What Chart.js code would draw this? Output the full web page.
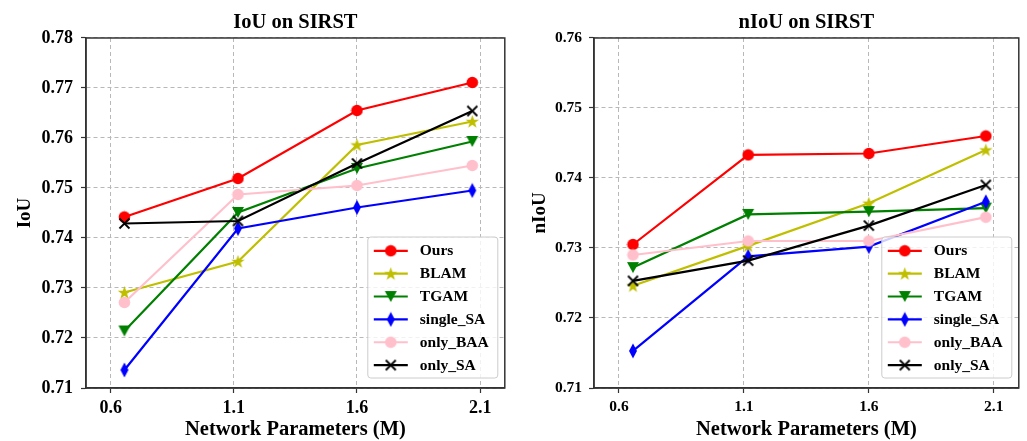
<!DOCTYPE html>
<html><head><meta charset="utf-8">
<script src="https://cdn.jsdelivr.net/npm/chart.js@4"></script>
<style>
html,body{margin:0;padding:0;background:#fff;width:1027px;height:441px;overflow:hidden}
.box{position:absolute;top:0;height:441px}
#b1{left:0;width:513px}
#b2{left:513px;width:514px}
</style></head><body>
<div class="box" id="b1"><canvas id="c1"></canvas></div>
<div class="box" id="b2"><canvas id="c2"></canvas></div>
<script>
// ---- data ----
const xParams = [0.656, 1.117, 1.6, 2.068];
const xTickValues = [0.6, 1.1, 1.6, 2.1];
const seriesNames = ['Ours', 'BLAM', 'TGAM', 'single_SA', 'only_BAA', 'only_SA'];

const iouOurs     = [0.7442, 0.7519, 0.7655, 0.7711];
const iouBLAM     = [0.7291, 0.7353, 0.7586, 0.7633];
const iouTGAM     = [0.7214, 0.7451, 0.7539, 0.7593];
const iouSingleSA = [0.7136, 0.7419, 0.7461, 0.7495];
const iouOnlyBAA  = [0.7271, 0.7487, 0.7505, 0.7545];
const iouOnlySA   = [0.7429, 0.7434, 0.7549, 0.7654];
const iouTickValues = [0.71, 0.72, 0.73, 0.74, 0.75, 0.76, 0.77, 0.78];

const niouOurs     = [0.7305, 0.7433, 0.7435, 0.7460];
const niouBLAM     = [0.7246, 0.7303, 0.7364, 0.7440];
const niouTGAM     = [0.7272, 0.7348, 0.7352, 0.7357];
const niouSingleSA = [0.7153, 0.7288, 0.7302, 0.7366];
const niouOnlyBAA  = [0.7290, 0.7310, 0.7310, 0.7344];
const niouOnlySA   = [0.7253, 0.7282, 0.7332, 0.7390];
const niouTickValues = [0.71, 0.72, 0.73, 0.74, 0.75, 0.76];

// ---- styles ----
const seriesColors = ['#ff0000', '#bfbf00', '#008000', '#0000ff', '#ffc0cb', '#000000'];
const markerKinds = ['circle', 'star', 'tridown', 'thindiamond', 'circle', 'x'];
const FONT = '"Liberation Serif", "Times New Roman", serif';

function makeMarker(kind, color) {
  const c = document.createElement('canvas');
  let w = 13, h = 13;
  if (kind === 'star') { w = 15; h = 15; }
  if (kind === 'tridown') { w = 14; h = 13; }
  if (kind === 'thindiamond') { w = 10; h = 16; }
  if (kind === 'x') { w = 13; h = 13; }
  c.width = w; c.height = h;
  const g = c.getContext('2d');
  g.fillStyle = color; g.strokeStyle = color;
  const cx = w / 2, cy = h / 2;
  g.beginPath();
  if (kind === 'circle') {
    g.arc(cx, cy, 5.8, 0, Math.PI * 2);
    g.fill();
  } else if (kind === 'star') {
    const R = 7, r = 2.8;
    for (let k = 0; k < 10; k++) {
      const ang = -Math.PI / 2 + k * Math.PI / 5;
      const rad = k % 2 === 0 ? R : r;
      const px = cx + rad * Math.cos(ang), py = cy + 0.5 + rad * Math.sin(ang);
      if (k === 0) g.moveTo(px, py); else g.lineTo(px, py);
    }
    g.closePath(); g.fill();
  } else if (kind === 'tridown') {
    g.moveTo(1, 1); g.lineTo(w - 1, 1); g.lineTo(cx, h - 1); g.closePath(); g.fill();
  } else if (kind === 'thindiamond') {
    g.moveTo(cx, 0.5); g.lineTo(w - 1, cy); g.lineTo(cx, h - 0.5); g.lineTo(1, cy); g.closePath(); g.fill();
  } else if (kind === 'x') {
    g.lineWidth = 1.8;
    g.moveTo(1.5, 1.5); g.lineTo(w - 1.5, h - 1.5);
    g.moveTo(w - 1.5, 1.5); g.lineTo(1.5, h - 1.5);
    g.stroke();
  }
  return c;
}

const framePlugin = {
  id: 'frame',
  afterDraw(chart) {
    const {ctx, chartArea: a} = chart;
    ctx.save();
    ctx.strokeStyle = '#333';
    ctx.lineWidth = 1.5;
    ctx.strokeRect(a.left, a.top, a.right - a.left, a.bottom - a.top);
    ctx.restore();
  }
};

const legendPlugin = {
  id: 'mplLegend',
  afterDraw(chart) {
    const {ctx, chartArea: a} = chart;
    const W = 130, H = 141;
    const x0 = a.right - 7 - W, y0 = a.bottom - 10 - H;
    const rr = 3;
    ctx.save();
    ctx.beginPath();
    ctx.moveTo(x0 + rr, y0);
    ctx.lineTo(x0 + W - rr, y0); ctx.arcTo(x0 + W, y0, x0 + W, y0 + rr, rr);
    ctx.lineTo(x0 + W, y0 + H - rr); ctx.arcTo(x0 + W, y0 + H, x0 + W - rr, y0 + H, rr);
    ctx.lineTo(x0 + rr, y0 + H); ctx.arcTo(x0, y0 + H, x0, y0 + H - rr, rr);
    ctx.lineTo(x0, y0 + rr); ctx.arcTo(x0, y0, x0 + rr, y0, rr);
    ctx.closePath();
    ctx.fillStyle = 'rgba(255,255,255,0.8)'; ctx.fill();
    ctx.strokeStyle = '#cccccc'; ctx.lineWidth = 1; ctx.stroke();
    chart.data.datasets.forEach((ds, i) => {
      const y = y0 + 13.8 + i * 22.86;
      ctx.beginPath(); ctx.moveTo(x0 + 6, y); ctx.lineTo(x0 + 40, y);
      ctx.strokeStyle = ds.borderColor; ctx.lineWidth = 2.2; ctx.stroke();
      const m = ds.pointStyle;
      ctx.drawImage(m, x0 + 23 - m.width / 2, y - m.height / 2);
      ctx.fillStyle = '#000';
      ctx.font = 'bold 15.5px ' + FONT;
      ctx.textBaseline = 'middle'; ctx.textAlign = 'left';
      ctx.fillText(ds.label, x0 + 52, y + 0.5);
    });
    ctx.restore();
  }
};

function buildChart(id, o) {
  const datasets = o.series.map((vals, i) => ({
    label: seriesNames[i],
    data: xParams.map((x, j) => ({x: x, y: vals[j]})),
    borderColor: seriesColors[i],
    backgroundColor: seriesColors[i],
    borderWidth: 2.2,
    pointStyle: makeMarker(markerKinds[i], seriesColors[i]),
    pointRadius: 6,
    pointHoverRadius: 6,
    tension: 0,
    fill: false,
    order: -i
  }));
  return new Chart(document.getElementById(id), {
    type: 'line',
    data: {datasets: datasets},
    options: {
      responsive: true, maintainAspectRatio: false, animation: false, events: [],
      layout: {padding: {left: 0, top: 0, bottom: 0, right: o.padRight}},
      scales: {
        x: {
          type: 'linear', min: 0.5, max: 2.2,
          afterBuildTicks: s => { s.ticks = xTickValues.map(v => ({value: v})); },
          afterFit: s => { s.height = 53; },
          ticks: {callback: v => Number(v).toFixed(1), font: {family: FONT, size: o.tickSize, weight: 'bold'}, color: '#000', padding: 5, maxRotation: 0, autoSkip: false},
          grid: {color: '#b8b8b8', lineWidth: 1, tickLength: 5, tickColor: '#333', tickWidth: 1.2, drawTicks: true},
          border: {display: true, color: '#333', width: 1.5, dash: [4, 3]},
          title: {display: true, text: 'Network Parameters (M)', font: {family: FONT, size: 20.5, weight: 'bold', lineHeight: 1.2}, color: '#000', padding: {top: 0, bottom: -1}}
        },
        y: {
          type: 'linear', min: o.yTicks[0], max: o.yTicks[o.yTicks.length - 1],
          afterBuildTicks: s => { s.ticks = o.yTicks.map(v => ({value: v})); },
          afterFit: s => { s.width = o.yWidth; },
          ticks: {callback: v => Number(v).toFixed(2), font: {family: FONT, size: o.tickSize, weight: 'bold'}, color: '#000', padding: o.yPad, autoSkip: false},
          grid: {color: '#b8b8b8', lineWidth: 1, tickLength: 5, tickColor: '#333', tickWidth: 1.2, drawTicks: true},
          border: {display: true, color: '#333', width: 1.5, dash: [4, 3]},
          title: {display: true, text: o.yTitle, font: {family: FONT, size: 19, weight: 'bold', lineHeight: 1.2}, color: '#000', padding: {top: o.yTitlePad, bottom: 0}}
        }
      },
      plugins: {
        legend: {display: false},
        tooltip: {enabled: false},
        title: {display: true, text: o.title, fullSize: false, color: '#000', font: {family: FONT, size: 20.5, weight: 'bold', lineHeight: 1.17}, padding: {top: 11, bottom: 3}}
      }
    },
    plugins: [framePlugin, legendPlugin]
  });
}

buildChart('c1', {
  title: 'IoU on SIRST', yTitle: 'IoU',
  series: [iouOurs, iouBLAM, iouTGAM, iouSingleSA, iouOnlyBAA, iouOnlySA],
  yTicks: iouTickValues, tickSize: 18, yWidth: 86, yPad: 8, yTitlePad: 14, padRight: 1
});
buildChart('c2', {
  title: 'nIoU on SIRST', yTitle: 'nIoU',
  series: [niouOurs, niouBLAM, niouTGAM, niouSingleSA, niouOnlyBAA, niouOnlySA],
  yTicks: niouTickValues, tickSize: 15.5, yWidth: 81, yPad: 7, yTitlePad: 15.6, padRight: 5
});
</script>
</body></html>
